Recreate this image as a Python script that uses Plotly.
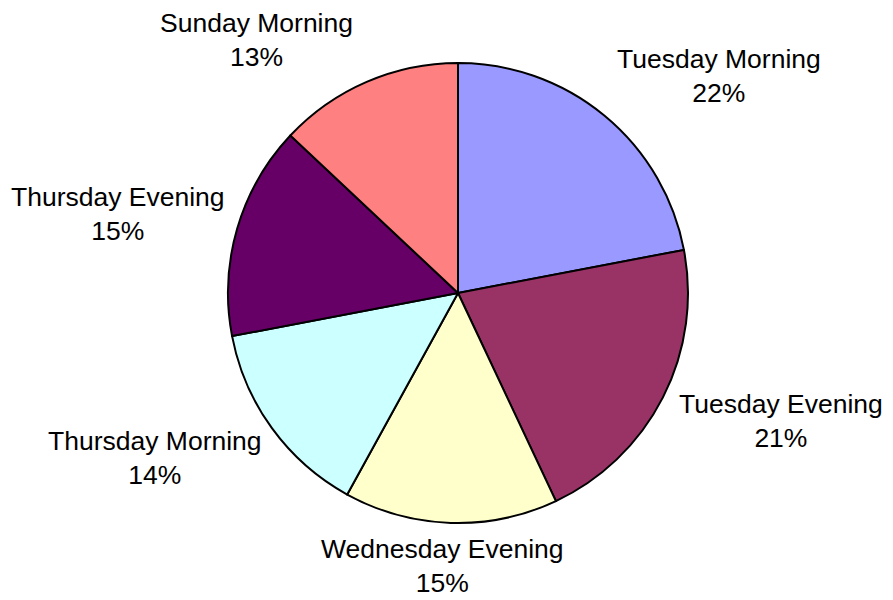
import math
import plotly.graph_objects as go

labels = ["Tuesday Morning", "Tuesday Evening", "Wednesday Evening",
          "Thursday Morning", "Thursday Evening", "Sunday Morning"]
values = [22, 21, 15, 14, 15, 13]
colors = ["#9999FF", "#993366", "#FFFFCC", "#CCFFFF", "#660066", "#FF8080"]

# page body has an 8px margin, so the figure is a bit smaller than the window
W, H = 885, 592
cx, cy, R = 450, 285, 230
label_r = 245            # where the label box touches the ray
half_w, half_h = 105, 28  # rough half size of a two-line label

fig = go.Figure(go.Pie(
    labels=labels,
    values=values,
    sort=False,
    direction="clockwise",
    rotation=0,
    marker=dict(colors=colors, line=dict(color="black", width=2)),
    textinfo="none",
    showlegend=False,
    hoverinfo="label+percent",
    domain=dict(x=[(cx - R) / W, (cx + R) / W],
                y=[(H - cy - R) / H, (H - cy + R) / H]),
))

def clamp(v):
    return max(-1.0, min(1.0, v))

total = sum(values)
cum = 0
for lab, val in zip(labels, values):
    mid = (cum + val / 2) / total * 2 * math.pi
    cum += val
    sx, sy = math.sin(mid), -math.cos(mid)
    px = cx + label_r * sx + half_w * clamp(2.5 * sx)
    py = cy + label_r * sy + half_h * clamp(1.3 * sy)
    fig.add_annotation(
        x=px / W, y=1 - py / H, xref="paper", yref="paper",
        text=f"{lab}<br>{round(val / total * 100)}%",
        showarrow=False, xanchor="center", yanchor="middle",
        font=dict(family="Liberation Sans, Arial", size=26.5, color="black"),
    )

fig.update_layout(
    width=W, height=H,
    margin=dict(l=0, r=0, t=0, b=0),
    paper_bgcolor="white",
    plot_bgcolor="white",
)

fig.write_html("out.html")
